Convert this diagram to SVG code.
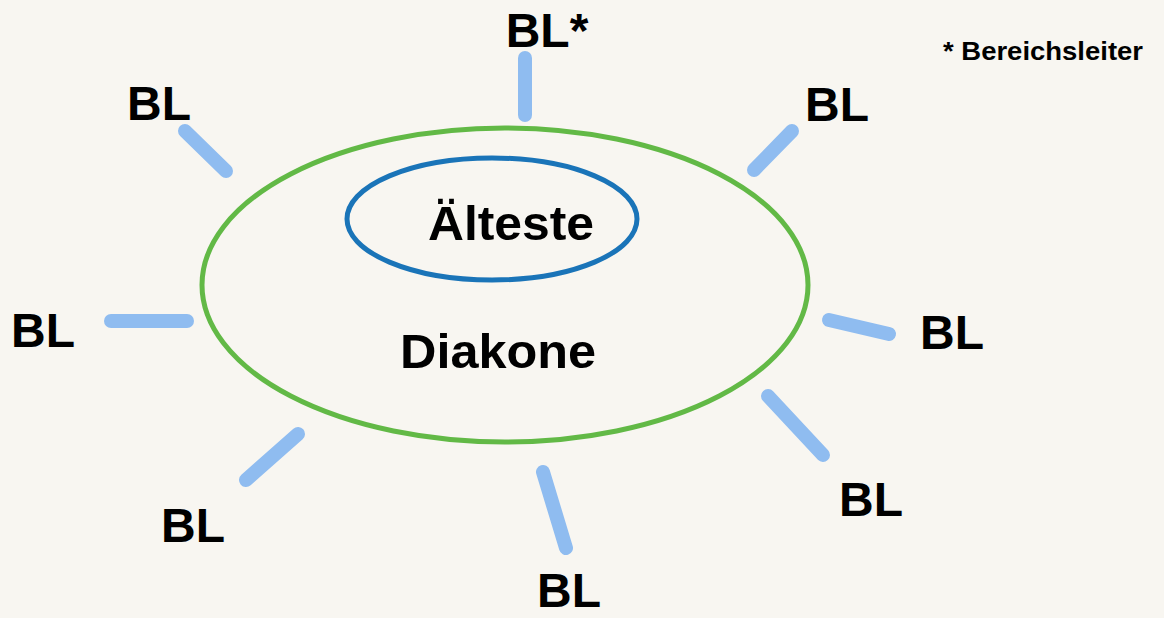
<svg xmlns="http://www.w3.org/2000/svg" width="1164" height="618" viewBox="0 0 1164 618">
<style>
.bl{font-family:"Liberation Sans",Arial,sans-serif;font-weight:bold;font-size:48px;fill:#000;text-anchor:middle}
.spoke{stroke:#8fbcf0;stroke-width:14;stroke-linecap:round;fill:none}
.note{font-family:"Liberation Sans",Arial,sans-serif;font-weight:bold;font-size:25px;fill:#000}
</style>
<rect width="1164" height="618" fill="#f8f6f1"/>
<g id="connectors">
<line class="spoke" x1="525" y1="58" x2="525" y2="115"/>
<line class="spoke" x1="185" y1="131" x2="226" y2="171"/>
<line class="spoke" x1="792" y1="131" x2="754" y2="170"/>
<line class="spoke" x1="111" y1="321" x2="187" y2="321"/>
<line class="spoke" x1="829" y1="320" x2="889" y2="334"/>
<line class="spoke" x1="768" y1="396" x2="823" y2="455"/>
<line class="spoke" x1="543" y1="472" x2="566" y2="548"/>
<line class="spoke" x1="298" y1="434" x2="246" y2="480"/>
</g>
<g id="diakone">
<ellipse cx="505" cy="285" rx="303" ry="157" fill="none" stroke="#62b946" stroke-width="5"/>
<text class="bl" x="498" y="368" textLength="196" lengthAdjust="spacingAndGlyphs">Diakone</text>
</g>
<g id="aelteste">
<ellipse cx="492" cy="219" rx="145" ry="61" fill="none" stroke="#1a74b8" stroke-width="5"/>
<text class="bl" x="511" y="240" textLength="166" lengthAdjust="spacingAndGlyphs">Älteste</text>
</g>
<g id="bl-top"><text class="bl" x="547" y="47">BL*</text></g>
<g id="bl-ul"><text class="bl" x="159" y="120">BL</text></g>
<g id="bl-ur"><text class="bl" x="837" y="121">BL</text></g>
<g id="bl-l"><text class="bl" x="43" y="347">BL</text></g>
<g id="bl-r"><text class="bl" x="952" y="349">BL</text></g>
<g id="bl-lr"><text class="bl" x="871" y="516">BL</text></g>
<g id="bl-ll"><text class="bl" x="193" y="542">BL</text></g>
<g id="bl-b"><text class="bl" x="569" y="607">BL</text></g>
<g id="note"><text class="note" x="943" y="60" textLength="200" lengthAdjust="spacingAndGlyphs">* Bereichsleiter</text></g>
</svg>
